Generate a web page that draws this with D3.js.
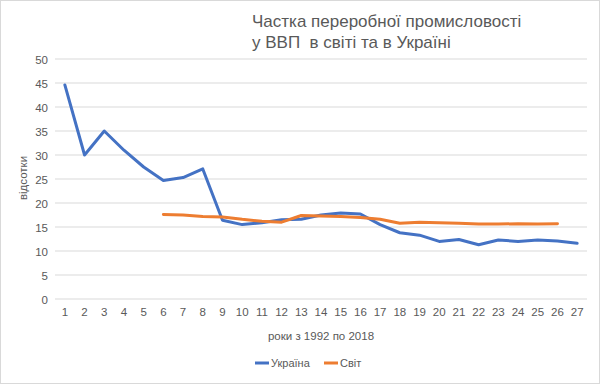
<!DOCTYPE html>
<html><head><meta charset="utf-8">
<script src="https://cdn.jsdelivr.net/npm/d3@7"></script>
<style>body{margin:0;background:#fff;} text{font-family:"Liberation Sans","Open Sans",sans-serif;fill:#595959;}</style>
</head><body><svg id="c" width="600" height="384"></svg>
<script>
const categories = d3.range(1, 28).map(String);
const ukraine = [44.6, 30.0, 35.0, 31.0, 27.5, 24.7, 25.3, 27.1, 16.4, 15.5, 15.9, 16.5, 16.6, 17.5, 17.9, 17.7, 15.5, 13.8, 13.3, 12.0, 12.4, 11.3, 12.3, 12.0, 12.3, 12.1, 11.6];
const world = [null, null, null, null, null, 17.6, 17.5, 17.2, 17.1, 16.6, 16.2, 16.0, 17.4, 17.3, 17.2, 17.0, 16.6, 15.8, 16.0, 15.9, 15.8, 15.6, 15.6, 15.7, 15.6, 15.7, null];
const yTicks = [0, 5, 10, 15, 20, 25, 30, 35, 40, 45, 50];
const seriesNames = ["Україна", "Світ"];
const colors = ["#4472c4", "#ed7d31"];

const svg = d3.select("#c");
svg.append("rect").attr("x",0.5).attr("y",0.5).attr("width",599).attr("height",383).attr("fill","#fff").attr("stroke","#d9d9d9");

const x = d3.scaleBand().domain(categories).range([55, 587]);
const y = d3.scaleLinear().domain([0, 50]).range([299, 59]);

const g = svg.append("g");
g.selectAll("line.grid").data(yTicks).join("line")
  .attr("x1", 55).attr("x2", 587).attr("y1", d => y(d)).attr("y2", d => y(d))
  .attr("stroke", "#d9d9d9").attr("stroke-width", 1);

const yAxis = d3.axisLeft(y).tickValues(yTicks).tickSize(0).tickPadding(0);
const ya = svg.append("g").attr("transform", "translate(48,0)").call(yAxis);
ya.select(".domain").remove();
ya.selectAll("text").attr("font-size", 11.5).attr("fill", "#595959").attr("dy","0.35em");

const xAxis = d3.axisBottom(x).tickSize(0).tickPadding(0);
const xa = svg.append("g").attr("transform", "translate(0,308)").call(xAxis);
xa.select(".domain").remove();
xa.selectAll("text").attr("font-size", 11.5).attr("fill", "#595959").attr("dy","0.71em");

const cx = d => x(d) + x.bandwidth()/2;
[ukraine, world].forEach((s, i) => {
  const line = d3.line().defined(d => d != null).x((d, j) => cx(categories[j])).y(d => y(d));
  svg.append("path").datum(s).attr("d", line).attr("fill", "none")
    .attr("stroke", colors[i]).attr("stroke-width", 3).attr("stroke-linejoin","round").attr("stroke-linecap","round");
});

svg.append("text").attr("x", 252).attr("y", 27).attr("font-size", 17).text("Частка переробної промисловості");
svg.append("text").attr("x", 252).attr("y", 48).attr("font-size", 17).style("white-space","pre").text("у ВВП  в світі та в Україні");

svg.append("text").attr("transform", "translate(27,178) rotate(-90)").attr("text-anchor","middle").attr("font-size", 11.5).text("відсотки");
svg.append("text").attr("x", 321).attr("y", 340).attr("text-anchor","middle").attr("font-size", 11.5).text("роки з 1992 по 2018");

const legX = [255, 324];
seriesNames.forEach((n, i) => {
  svg.append("line").attr("x1", legX[i]).attr("x2", legX[i]+14).attr("y1", 363).attr("y2", 363).attr("stroke", colors[i]).attr("stroke-width", 3);
  svg.append("text").attr("x", legX[i]+16).attr("y", 367).attr("font-size", 11).text(n);
});
</script></body></html>
